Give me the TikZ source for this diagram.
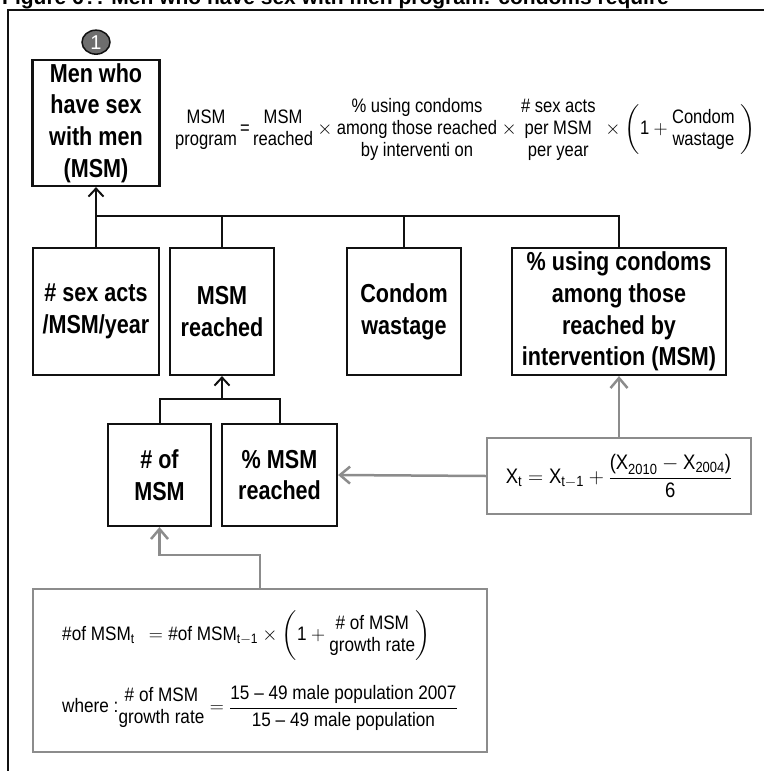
\documentclass[tikz,border=0pt]{standalone}
\usepackage{fix-cm}
\usepackage{amsmath}
\usepackage{fontspec}
\setmainfont{Liberation Sans}
\newfontfamily\boxfont{Liberation Sans}[FakeStretch=0.83]
\newfontfamily\eqfont{Liberation Sans}[FakeStretch=0.88]
\newfontfamily\costfont{Liberation Sans}[FakeStretch=0.85]
\definecolor{Linecol}{HTML}{111111}
\definecolor{Graycol}{HTML}{8C8C8C}
\definecolor{Badgecol}{HTML}{6E6E6E}
\usetikzlibrary{arrows.meta, positioning, shapes.geometric}
\tikzset{
    >={Straight Barb[length=8pt,width=15pt]},
    treebox/.style={draw=Linecol, line width=2.2pt, align=center, inner sep=0pt,
        font={\boxfont\bfseries\fontsize{26}{31.7}\selectfont}},
    calcbox/.style={draw=Graycol, line width=2.5pt, inner sep=0pt},
    eqtext/.style={font={\eqfont\fontsize{#1}{22}\selectfont}},
    tree/.style={Linecol, line width=2pt},
    feed/.style={Graycol, line width=2.5pt, ->, >={Straight Barb[length=10pt,width=17pt]}},
    numbadge/.style={ellipse, draw=Linecol, line width=1.5pt, fill=Badgecol, text=white,
        minimum width=28pt, minimum height=24pt, inner sep=0pt,
        font={\fontsize{20}{22}\selectfont}}
}
\newcommand{\stk}[1]{\begin{tabular}{@{}c@{}}#1\end{tabular}}

\begin{document}
\begin{tikzpicture}[x=1pt, y=-1pt]
    \useasboundingbox (0,0) rectangle (764,771);

    % Caption (cut by the page) and frame
    \node[anchor=base west, inner sep=0pt, font={\bfseries\fontsize{21}{24}\selectfont}] (title) at (2,5)
        {Figure 6?: Men who have sex with men program: condoms require};
    \draw[Linecol, line width=1.5pt] (8,771) -- (8,10) -- (764,10);

    % Top of the tree
    \node[treebox, minimum width=127pt, minimum height=126pt] (msm) at (96,123) {Men who\\have sex\\with men\\(MSM)};
    \node[numbadge, above=4pt of msm] (badge) {1};

    \node[anchor=west, inner sep=0pt, font={\costfont\fontsize{19.5}{22}\selectfont}] (costeq) at (175,130)
        {$\stk{MSM\\program}\,\text{=}\,\stk{MSM\\reached}\times\stk{\% using condoms\\among those reached\\by interventi on}\times\stk{\# sex acts\\per MSM\\per year}\;\times\left(\text{1}+\stk{Condom\\wastage}\;\right)$};

    % Second row
    \node[treebox, minimum width=126pt, minimum height=127pt] (sexacts) at (96,311.5) {\# sex acts\\/MSM/year};
    \node[treebox, minimum width=104pt, minimum height=127pt] (reached) at (222,311.5) {MSM\\reached};
    \node[treebox, minimum width=114pt, minimum height=127pt] (wastage) at (404,311.5) {Condom\\wastage};
    \node[treebox, minimum width=214pt, minimum height=127pt] (condomuse) at (619,311.5) {\% using condoms\\among those\\reached by\\intervention (MSM)};

    \coordinate (jtop) at (96,216);
    \draw[tree, ->] (jtop) -- (jtop |- msm.south);
    \foreach \kid in {sexacts, reached, wastage, condomuse}
        \draw[tree] (\kid.north) |- (jtop);

    % Third row
    \node[treebox, minimum width=103pt, minimum height=102pt] (nummsm) at (159.5,475) {\# of\\MSM};
    \node[treebox, minimum width=115pt, minimum height=102pt] (pctreached) at (279.5,475) {\% MSM\\reached};

    \coordinate (jsub) at (222,399);
    \draw[tree, ->] (jsub) -- (reached.south);
    \foreach \kid in {nummsm, pctreached}
        \draw[tree] (\kid.north) |- (jsub);

    % Calculation boxes
    \node[calcbox, minimum width=264pt, minimum height=76pt, eqtext=21] (xtrend) at (619,476)
        {$\text{X}_{\text{t}}=\text{X}_{\text{t}-\text{1}}+\dfrac{\text{(X}_{\text{2010}}-\text{X}_{\text{2004}}\text{)}}{\text{6}}$};
    \node[calcbox, minimum width=454pt, minimum height=163pt, align=left, eqtext=19.5] (growth) at (260,670.5)
        {$\text{\#of MSM}_{\text{t}}\;\,=\text{\#of MSM}_{\text{t}-\text{1}}\times\left(\text{1}+\stk{\# of MSM\\growth rate}\right)$\\[24pt]
         $\text{where :}\stk{\# of MSM\\growth rate}=\dfrac{\text{15 – 49 male population 2007}}{\text{15 – 49 male population}}$};

    \draw[feed] (xtrend.north) -- (condomuse.south);
    \draw[feed] (xtrend.west) -- (pctreached.east);
    \draw[feed] (growth.north) -- ++(0,-33) -| (nummsm.south);
\end{tikzpicture}
\end{document}
